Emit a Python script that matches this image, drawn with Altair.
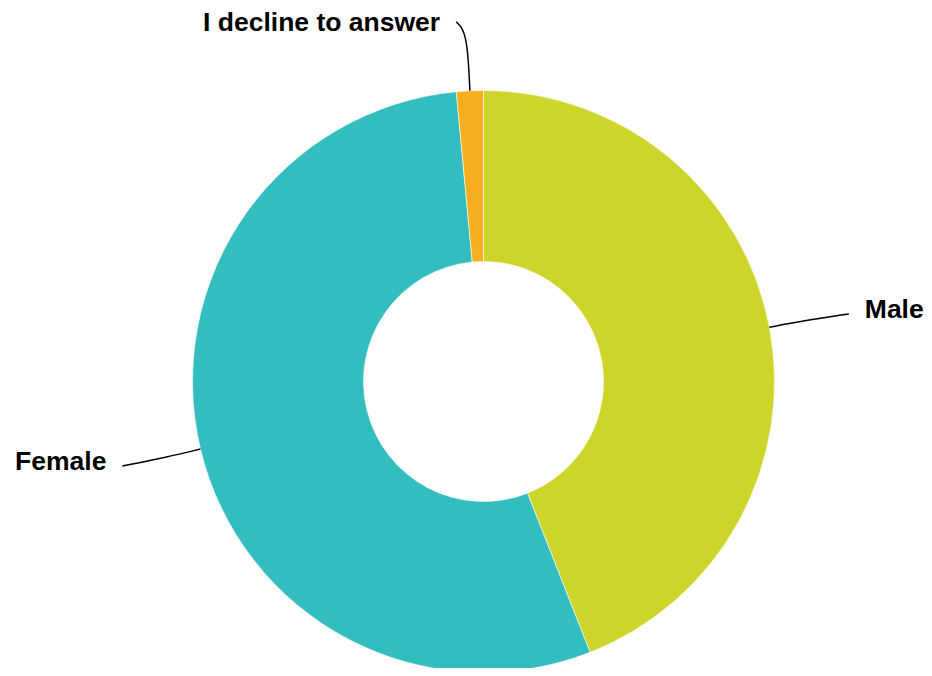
import math
import altair as alt
import pandas as pd

# ---- data ----
categories = ["Male", "Female", "I decline to answer"]
values = [44.03, 54.48, 1.49]
colors = ["#CDD52A", "#34BDBF", "#F7AF20"]

# ---- layout (pixels in the plot area) ----
W, H = 916, 660
CX, CY = 475.5, 373.5
R_OUT, R_IN = 291, 120
# per-slice connector style: elbow radius, end offset from elbow, label side, label dy
layout = {
    "Male": dict(r_elbow=325, dx=46, dy=-7, side="left", tdy=-4),
    "Female": dict(r_elbow=325, dx=-45, dy=9, side="right", tdy=-4),
    "I decline to answer": dict(r_elbow=350, dx=-11, dy=-10, side="right", tdy=1.5),
}

df = pd.DataFrame({"category": categories, "value": values, "order": range(len(categories))})

total = sum(values)
line_rows, text_rows = [], []
cum = 0.0
for cat, v in zip(categories, values):
    mid = (cum + v / 2) / total * 2 * math.pi
    cum += v
    L = layout[cat]
    s, c = math.sin(mid), math.cos(mid)
    p0 = (CX + R_OUT * s, CY - R_OUT * c)
    p1 = (CX + L["r_elbow"] * s, CY - L["r_elbow"] * c)
    p2 = (p1[0] + L["dx"], p1[1] + L["dy"])
    for i, p in enumerate([p0, p1, p2]):
        line_rows.append({"category": cat, "px": p[0], "py": p[1], "idx": i})
    gap = 16 if L["side"] == "left" else -16
    text_rows.append({"category": cat, "px": p2[0] + gap, "py": p2[1] + L["tdy"], "side": L["side"]})

lines_df = pd.DataFrame(line_rows)
text_df = pd.DataFrame(text_rows)

xs = alt.Scale(domain=[0, W], range=[0, W])
ys = alt.Scale(domain=[0, H], range=[0, H])

arcs = alt.Chart(df).mark_arc(
    innerRadius=R_IN, outerRadius=R_OUT, stroke="white", strokeWidth=0.6
).encode(
    theta=alt.Theta("value:Q", stack=True),
    color=alt.Color("category:N", scale=alt.Scale(domain=categories, range=colors), legend=None),
    order=alt.Order("order:Q"),
    x=alt.value(CX),
    y=alt.value(CY),
)

connectors = alt.Chart(lines_df).mark_line(
    interpolate="basis", color="black", strokeWidth=1.5
).encode(
    x=alt.X("px:Q", scale=xs, axis=None),
    y=alt.Y("py:Q", scale=ys, axis=None),
    detail="category:N",
    order="idx:Q",
)

def labels(side, align):
    return alt.Chart(text_df).transform_filter(
        alt.datum.side == side
    ).mark_text(
        align=align, baseline="middle", font="Liberation Sans",
        fontSize=26.5, fontWeight="bold", color="black"
    ).encode(
        x=alt.X("px:Q", scale=xs, axis=None),
        y=alt.Y("py:Q", scale=ys, axis=None),
        text="category:N",
    )

chart = alt.layer(arcs, connectors, labels("left", "left"), labels("right", "right")).properties(
    width=W, height=H, padding=0, autosize=alt.AutoSizeParams(type="none")
).configure_view(stroke=None)

chart.save("out.html", embed_options={"renderer": "svg", "actions": False})
